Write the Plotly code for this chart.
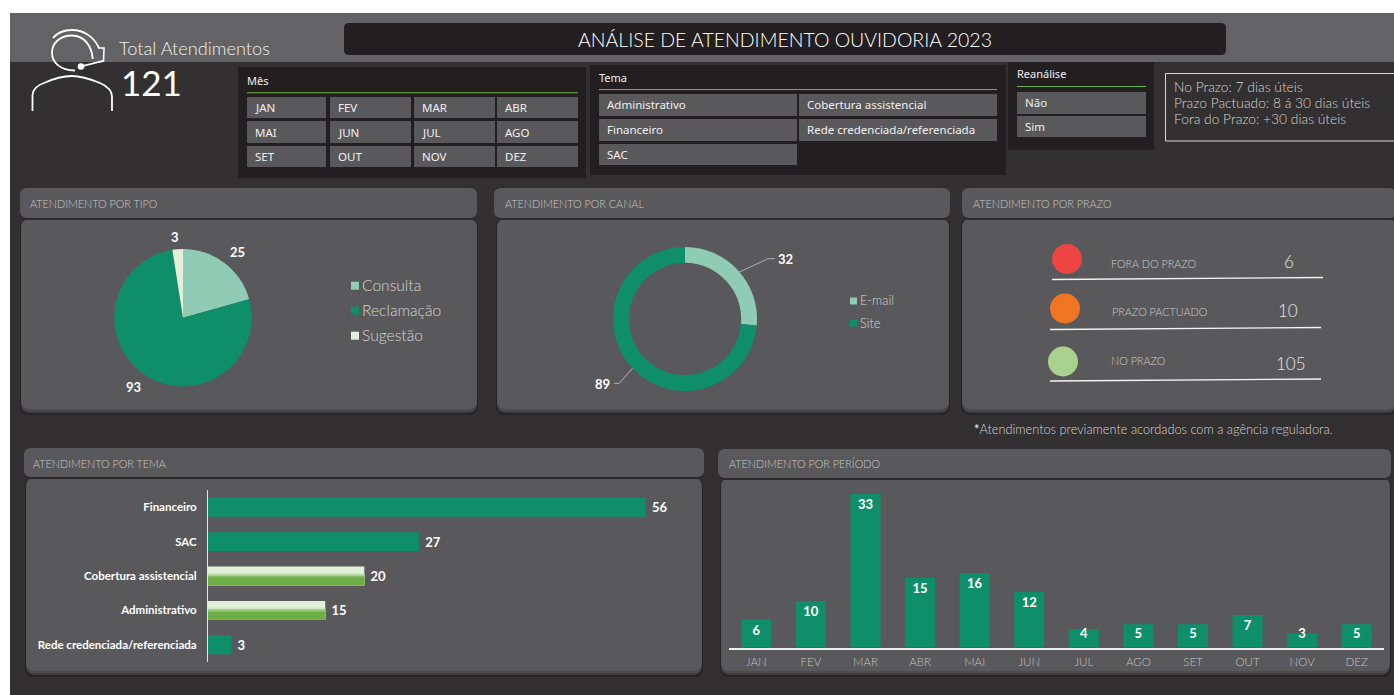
import plotly.graph_objects as go

# ---------- data ----------
TOTAL_LABEL = "Total Atendimentos"
TOTAL_VALUE = 121
TITLE = "ANÁLISE DE ATENDIMENTO OUVIDORIA 2023"

tipo_labels = ["Consulta", "Reclamação", "Sugestão"]
tipo_values = [25, 93, 3]

canal_labels = ["E-mail", "Site"]
canal_values = [32, 89]

prazo_labels = ["FORA DO PRAZO", "PRAZO PACTUADO", "NO PRAZO"]
prazo_values = [6, 10, 105]

tema_labels = ["Financeiro", "SAC", "Cobertura assistencial", "Administrativo", "Rede credenciada/referenciada"]
tema_values = [56, 27, 20, 15, 3]
tema_highlight = ["Cobertura assistencial", "Administrativo"]

meses = ["JAN", "FEV", "MAR", "ABR", "MAI", "JUN", "JUL", "AGO", "SET", "OUT", "NOV", "DEZ"]
periodo_values = [6, 10, 33, 15, 16, 12, 4, 5, 5, 7, 3, 5]

slicer_tema = ["Administrativo", "Cobertura assistencial", "Financeiro", "Rede credenciada/referenciada", "SAC"]
slicer_reanalise = ["Não", "Sim"]
notas_prazo = ["No Prazo: 7 dias úteis", "Prazo Pactuado: 8 á 30 dias úteis", "Fora do Prazo: +30 dias úteis"]
nota_rodape = "Atendimentos previamente acordados com a agência reguladora."

# ---------- style ----------
W, H = 1394, 695
BG = "#323031"
BAND = "#636365"
BLACK = "#231f20"
PANEL = "#59595b"
GREEN = "#0f8f69"
MINT = "#8fcbb5"
PALE = "#e2f0d9"
LIME = "#6db33f"
FONT = "Lato"
UI = "Noto Sans"
GRAY = "#c4c4c4"
LIGHT_TEXT = "#d4d4d4"


def px(x):
    return x / W


def py(y):
    return 1 - y / H


shapes, ann = [], []


def rect(x0, y0, x1, y1, color, line=None, lw=1):
    shapes.append(dict(type="rect", xref="paper", yref="paper", x0=px(x0), x1=px(x1), y0=py(y0), y1=py(y1),
                       fillcolor=color, line=dict(color=line or color, width=lw if line else 0), layer="below"))


def path(points_str, fill=None, line=None, lw=1):
    """points_str tokens in pixels: 'M x y L x y Q ... Z'"""
    out = []
    is_x = True
    for tok in points_str.split():
        if tok.isalpha():
            out.append(tok)
            is_x = True
        else:
            v = float(tok)
            out.append(f"{px(v):.5f}" if is_x else f"{py(v):.5f}")
            is_x = not is_x
    d = " ".join(out)
    shapes.append(dict(type="path", xref="paper", yref="paper", path=d, fillcolor=fill or "rgba(0,0,0,0)",
                       line=dict(color=line or "rgba(0,0,0,0)", width=lw if line else 0), layer="below"))


def rrect(x0, y0, x1, y1, r, color):
    path(f"M {x0+r} {y0} L {x1-r} {y0} Q {x1} {y0} {x1} {y0+r} L {x1} {y1-r} Q {x1} {y1} {x1-r} {y1} "
         f"L {x0+r} {y1} Q {x0} {y1} {x0} {y1-r} L {x0} {y0+r} Q {x0} {y0} {x0+r} {y0} Z", fill=color)


def text(x, y, s, size=11, color=GRAY, anchor="left", family=FONT, weight=400):
    if anchor == "left":
        x -= 1
    ann.append(dict(xref="paper", yref="paper", x=px(x), y=py(y), text=s, showarrow=False, xanchor=anchor,
                    yanchor="middle", borderpad=0, font=dict(family=family, size=size, color=color, weight=weight)))


def circle(cx, cy, r, color):
    shapes.append(dict(type="circle", xref="paper", yref="paper", x0=px(cx - r), x1=px(cx + r), y0=py(cy - r),
                       y1=py(cy + r), fillcolor=color, line=dict(width=0), layer="below"))


def panel(hx0, hx1, hy0, hy1, bx0, bx1, by0, by1, title, tx, ty):
    # body with soft bottom edge
    rrect(bx0 - 1, by0 - 2, bx1 + 1, by1 + 1, 9, "#262425")
    rrect(bx0, by0 - 2, bx1, by1 - 1, 9, "#3f3f41")
    rrect(bx0, by0 - 2, bx1, by1 - 3, 9, "#4c4c4e")
    rrect(bx0, by0 - 2, bx1, by1 - 5, 9, PANEL)
    rrect(hx0, hy0, hx1, hy1 + 2, 7, "#2b292a")
    rrect(hx0, hy0, hx1, hy1, 7, PANEL)
    text(tx, ty, title, size=10.8, color="#c8c8c8", weight=300)


def button(x0, y0, x1, y1, label, size=11.5, dy=-0.5):
    rect(x0, y0, x1, y1, PANEL)
    text(x0 + 7.5, (y0 + y1) / 2 + dy, label, size=size, color="#f0f0f0", family=UI)


# ---------- page background ----------
rect(10, 13, W, H, BG)
rect(10, 13, W, 62, BAND)
rrect(344, 23, 1226, 55, 5, BLACK)
text(785, 40, TITLE, size=19.5, color="#ffffff", anchor="center", weight=300)

# head-set icon
ICON = "#ffffff"
path("M 75 70.5 C 60 70.5 52 62 52 53 C 52 43 60 35.5 72 35.5 C 84 35.5 92 46 92.7 59", line=ICON, lw=1.8)
path("M 53 38 C 58 32 65 30 72 30 C 84 30 94 37 99 48", line=ICON, lw=1.8)
path("M 98 48 L 104 48 L 103.5 61 L 98 62", line=ICON, lw=1.6)
path("M 81 66.5 L 103 61", line=ICON, lw=1.8)
circle(81, 66.5, 3.3, ICON)
path("M 32.5 111 L 32.5 95 C 33 88 38 85 44 83 C 55 78 62 76 72 76 C 82 76 90 79 100 83 "
     "C 107 86 112 90 112 97 L 112 111", line=ICON, lw=1.8)
text(119, 48, TOTAL_LABEL, size=18.2, color="#f0f0f0", weight=300)
text(121, 82, str(TOTAL_VALUE), size=35, color="#ffffff", weight=400)

# slicer: Mes
rect(238, 67, 586, 178, BLACK)
text(247, 81, "Mês", size=11, color="#f0f0f0", family=UI)
rect(247, 92.3, 578, 93.3, LIME)
col_x = [(247, 326), (330, 411), (414, 495), (497, 578)]
row_y = [(97, 118), (121, 143), (146, 167)]
for i, m in enumerate(meses):
    c, r = i % 4, i // 4
    button(col_x[c][0], row_y[r][0], col_x[c][1], row_y[r][1], m, dy=0.5)

# slicer: Tema
rect(590, 65, 1006, 175, BLACK)
text(599, 77, "Tema", size=11, color="#f0f0f0", family=UI)
rect(599, 89, 997, 90, LIME)
tcol = [(599, 797), (799, 997)]
trow = [(94, 116), (119, 141), (144, 165)]
for i, t in enumerate(slicer_tema):
    c, r = i % 2, i // 2
    button(tcol[c][0], trow[r][0], tcol[c][1], trow[r][1], t)

# slicer: Reanalise
rect(1008, 62, 1154, 150, BLACK)
text(1017, 74, "Reanálise", size=11, color="#f0f0f0", family=UI)
rect(1017, 86, 1146, 87, LIME)
for (y0, y1), t in zip([(92, 114), (116, 137)], slicer_reanalise):
    button(1017, y0, 1146, y1, t)

# note box
rect(1165.5, 73.5, 1400, 141, BG, line="#d8d8d8", lw=1)
for y, t in zip([87, 102, 118], notas_prazo):
    text(1174, y, t, size=13.8, color=LIGHT_TEXT, weight=300)

# panels
panel(20, 477, 188, 218, 21, 477, 221, 414, "ATENDIMENTO POR TIPO", 30, 203)
panel(494, 950, 188, 218, 497, 949, 221, 414, "ATENDIMENTO POR CANAL", 505, 203)
panel(962, 1396, 188, 218, 962, 1396, 221, 414, "ATENDIMENTO POR PRAZO", 973, 203)
panel(24, 704, 448, 477, 26, 702, 480, 676, "ATENDIMENTO POR TEMA", 33, 463)
panel(718, 1391, 449, 478, 721, 1390, 480, 676, "ATENDIMENTO POR PERÍODO", 729, 463.5)

# legends (tipo, canal)
TIPO_COLORS = [MINT, GREEN, PALE]
for y, lab, col in zip([285.7, 310.7, 335.7], tipo_labels, TIPO_COLORS):
    rect(351, y - 4, 359, y + 4, col)
    text(362, y - 1, lab, size=15.6, color=LIGHT_TEXT, weight=300)
CANAL_COLORS = [MINT, GREEN]
for y, lab, col in zip([301, 323], canal_labels, CANAL_COLORS):
    rect(850, y - 3.5, 857, y + 3.5, col)
    text(860, y - 0.5, lab, size=12.7, color=LIGHT_TEXT, weight=300)

# value labels for the round charts
for (x, y), v in zip([(237, 252), (133, 387), (175, 237)], tipo_values):
    text(x, y, f"<b>{v}</b>", size=13, color="#ffffff", anchor="center")
path("M 731.7 275.7 L 768 258.7 L 775 258.7", line="#b0b0b0", lw=1)
path("M 637.7 362.3 L 619.3 383.3 L 614 383.3", line="#b0b0b0", lw=1)
text(785, 259, f"<b>{canal_values[0]}</b>", size=13, color="#ffffff", anchor="center")
text(602.7, 383.5, f"<b>{canal_values[1]}</b>", size=13, color="#ffffff", anchor="center")

# prazo block
PRAZO_COLORS = ["#ef4444", "#f07522", "#a9d18e"]
centers = [(1067, 259), (1065, 308.5), (1063, 361.5)]
lab_pos = [(1111, 263), (1112, 311), (1111, 360)]
val_pos = [(1289, 262), (1288, 310), (1291, 363)]
lines = [(1052, 279.5, 1323, 277.5), (1050, 329.5, 1321, 327.5), (1050, 381, 1321, 379)]
for (cx, cy), col, (lx, ly), lab, (vx, vy), val, (a, b, c, d) in zip(
        centers, PRAZO_COLORS, lab_pos, prazo_labels, val_pos, prazo_values, lines):
    circle(cx, cy, 15, col)
    text(lx, ly, lab, size=10.8, color="#cccccc", weight=300)
    text(vx, vy, str(val), size=17, color="#e4e4e4", anchor="center", weight=300)
    path(f"M {a} {b} L {c} {d}", line="#f4f4f4", lw=1.4)

text(974, 429, "<b>*</b>" + nota_rodape, size=12.75, color=LIGHT_TEXT, weight=300)

# ---------- traces ----------
fig = go.Figure()

fig.add_trace(go.Pie(
    labels=tipo_labels, values=tipo_values, sort=False, direction="clockwise", rotation=0,
    marker=dict(colors=TIPO_COLORS, line=dict(width=0)), textinfo="none", automargin=False, showlegend=False,
    domain=dict(x=[px(183 - 68.7), px(183 + 68.7)], y=[py(317.7 + 68.7), py(317.7 - 68.7)])))

fig.add_trace(go.Pie(
    labels=canal_labels, values=canal_values, sort=False, direction="clockwise", rotation=0, hole=0.78,
    marker=dict(colors=CANAL_COLORS, line=dict(width=0)), textinfo="none", automargin=False, showlegend=False,
    domain=dict(x=[px(685 - 72), px(685 + 72)], y=[py(319 + 72), py(319 - 72)])))

# horizontal bars by tema
base_colors = [PALE if t in tema_highlight else GREEN for t in tema_labels]
BAR_W = 0.55
fig.add_trace(go.Bar(
    orientation="h", y=tema_labels, x=tema_values, xaxis="x", yaxis="y", width=BAR_W, offset=-BAR_W / 2,
    marker=dict(color=base_colors, line=dict(width=0)), texttemplate="\u00a0%{x}", textposition="outside",
    textfont=dict(family=FONT, size=13, color="#ffffff", weight="bold"), cliponaxis=False, showlegend=False))
hl_vals = [v for t, v in zip(tema_labels, tema_values) if t in tema_highlight]
hl_cats = [t for t in tema_labels if t in tema_highlight]
for f0, col in [(0.35, "#cfe5bf"), (0.42, "#a9d18e"), (0.50, "#86bf66"), (0.58, "#70ad47")]:
    fig.add_trace(go.Bar(
        orientation="h", y=hl_cats, x=hl_vals, xaxis="x", yaxis="y", offset=-BAR_W / 2 + f0 * BAR_W,
        width=(1 - f0) * BAR_W, marker=dict(color=col, line=dict(width=0)), showlegend=False, hoverinfo="skip"))

# columns by period
fig.add_trace(go.Bar(
    x=meses, y=periodo_values, xaxis="x2", yaxis="y2", width=0.55, offset=-0.275,
    marker=dict(color=GREEN, line=dict(width=0)), showlegend=False))
fig.add_trace(go.Scatter(
    x=meses, y=[max(v - 2.6, 2.7) for v in periodo_values], xaxis="x2", yaxis="y2", mode="text",
    text=periodo_values, textposition="middle center", cliponaxis=False, hoverinfo="skip", showlegend=False,
    textfont=dict(family=FONT, size=13, color="#ffffff", weight="bold")))

fig.update_layout(
    width=W, height=H, margin=dict(l=0, r=0, t=0, b=0), autosize=False,
    paper_bgcolor="#ffffff", plot_bgcolor="rgba(0,0,0,0)", barmode="overlay", bargap=0.45,
    font=dict(family=FONT), shapes=shapes, annotations=ann, showlegend=False,
    xaxis=dict(domain=[px(208), px(677)], range=[0, 60], visible=False, fixedrange=True),
    yaxis=dict(domain=[py(662), py(490)], autorange="reversed", type="category", categoryorder="array",
               categoryarray=tema_labels, showline=True, linecolor="#e8e8e8", linewidth=1, showgrid=False,
               ticks="", ticklabelstandoff=8, zeroline=False, fixedrange=True,
               tickfont=dict(family=FONT, size=11.5, color="#ffffff", weight="bold"), anchor="x"),
    xaxis2=dict(domain=[px(729), px(1384)], type="category", categoryorder="array", categoryarray=meses,
                range=[-0.5, 11.5], showline=True, linecolor="#f0f0f0", linewidth=1.5, ticks="", showgrid=False,
                zeroline=False, tickfont=dict(family=FONT, size=11.5, color="#c4c4c4", weight=300), anchor="y2",
                ticklabelstandoff=3, fixedrange=True),
    yaxis2=dict(domain=[py(647.5), py(480)], range=[0, 36], visible=False, anchor="x2", fixedrange=True),
)

fig.write_html("out.html", config=dict(displayModeBar=False),
               post_script="document.body.style.margin='0';document.body.style.overflow='hidden';")
